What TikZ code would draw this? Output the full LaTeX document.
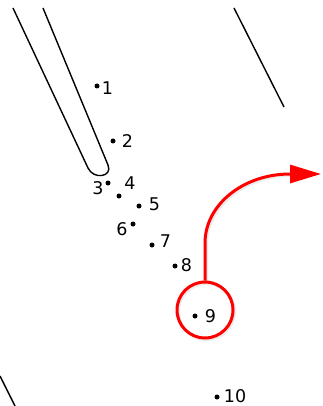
\documentclass[tikz,border=0pt]{standalone}
\usepackage{fontspec}
\setmainfont{DejaVu Sans}
\usetikzlibrary{arrows.meta}
\begin{document}
\begin{tikzpicture}[x=1pt,y=-1pt,
  dot/.style={circle,fill=black,inner sep=0pt,minimum size=5pt},
  lbl/.style={inner sep=0pt,font=\fontsize{17.5}{20}\selectfont},
  blk/.style={line width=1.4pt,black},
  redc/.style={draw=red,line width=3pt,circle,minimum size=56pt,inner sep=0pt},
  redarrow/.style={red,line width=3pt,-{Triangle[length=31pt,width=18pt]}},
  shadowline/.style={black!30,line width=3pt,opacity=0.25}]
\useasboundingbox (0,0) rectangle (322,406);
% black strokes
\draw[blk] (13,8) -- (88,168) .. controls (93.5,180) and (113,177) .. (108,165) -- (43,8);
\draw[blk] (234,8) -- (284,107);
\draw[blk] (0,376) -- (15,406);
% dots
\node[dot] (d1) at (97,86) {};
\node[dot] (d2) at (113,141) {};
\node[dot] (d3) at (108,183) {};
\node[dot] (d4) at (119,196) {};
\node[dot] (d5) at (139,206) {};
\node[dot] (d6) at (133,224) {};
\node[dot] (d7) at (152,245) {};
\node[dot] (d8) at (175,266) {};
\node[dot] (d9) at (195,316) {};
\node[dot] (d10) at (217,397) {};
% labels
\node[lbl] (l1) at (107.5,88) {1};
\node[lbl] (l2) at (127.5,141) {2};
\node[lbl] (l3) at (98,188) {3};
\node[lbl] (l4) at (130,183) {4};
\node[lbl] (l5) at (154.5,204) {5};
\node[lbl] (l6) at (122,229) {6};
\node[lbl] (l7) at (165.5,241) {7};
\node[lbl] (l8) at (186.5,265) {8};
\node[lbl] (l9) at (210.5,316) {9};
\node[lbl] (l10) at (235,396) {10};
% shadow
\draw[shadowline] (206.5,311.5) circle (28);
\draw[shadowline] (206.5,284) -- (206.5,245) .. controls (206.5,207) and (244.5,175.5) .. (291.5,175.5);
% red circle and arrow
\node[redc] (c9) at (205,310) {};
\coordinate (tip) at (321,174);
\draw[redarrow] (c9.north) -- (205,243) .. controls (205,205) and (243,174) .. (290,174) -- (tip);
\end{tikzpicture}
\end{document}
